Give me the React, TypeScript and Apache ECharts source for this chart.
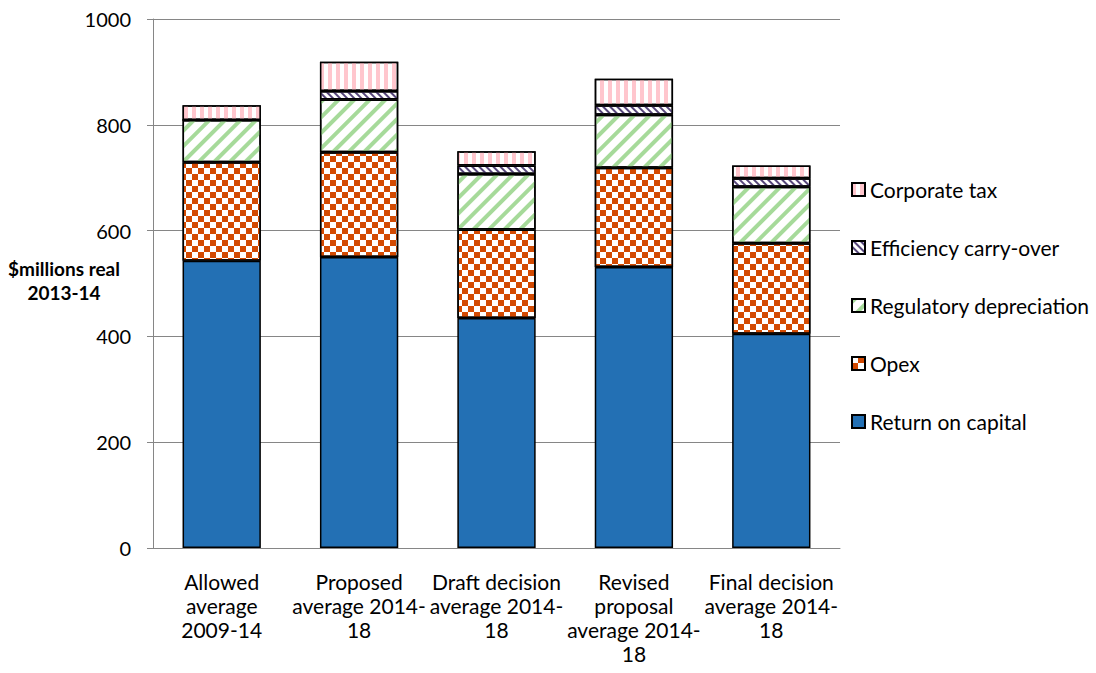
import React, { useEffect, useRef } from "react";
import * as echarts from "echarts";

const categories = [
  "Allowed\naverage\n2009-14",
  "Proposed\naverage 2014-\n18",
  "Draft decision\naverage 2014-\n18",
  "Revised\nproposal\naverage 2014-\n18",
  "Final decision\naverage 2014-\n18",
];
const returnOnCapital = [543, 550, 435, 531, 405];
const opex = [186, 198, 167, 188, 171];
const regulatoryDepreciation = [80, 100, 105, 100, 107];
const efficiencyCarryOver = [0, 16, 16, 18, 16];
const corporateTax = [28, 55, 27, 50, 24];
const yTicks = { min: 0, max: 1000, interval: 200 };
const yTitle = "$millions real\n2013-14";

const FONT = "Lato";

export default function App() {
  const ref = useRef<HTMLDivElement>(null);
  useEffect(() => {
    if (!ref.current) return;
    const chart = echarts.init(ref.current, null, { renderer: "svg" });
    const border = { borderColor: "#000", borderWidth: 1.5 };
    const stack = "total";
    chart.setOption({
      animation: false,
      backgroundColor: "#fff",
      textStyle: { fontFamily: FONT, color: "#000" },
      grid: {
        left: 153,
        top: 19,
        right: 256,
        bottom: 125,
        containLabel: false,
        outerBoundsMode: "none",
      },
      graphic: [
        {
          type: "text",
          x: 64,
          y: 280,
          style: {
            text: yTitle,
            fontFamily: FONT,
            fontSize: 19,
            fontWeight: "bold",
            lineHeight: 24,
            fill: "#000",
            align: "center",
            verticalAlign: "middle",
          },
        },
      ],
      legend: {
        orient: "vertical",
        left: 846,
        top: 174,
        itemWidth: 13,
        itemHeight: 13,
        itemGap: 37,
        icon: "rect",
        textStyle: { fontFamily: FONT, fontSize: 21, lineHeight: 20, color: "#000" },
        data: [
          "Corporate tax",
          "Efficiency carry-over",
          "Regulatory depreciation",
          "Opex",
          "Return on capital",
        ],
      },
      xAxis: {
        type: "category",
        data: categories,
        axisTick: { show: false },
        axisLine: { lineStyle: { color: "#868686", width: 1 } },
        axisLabel: {
          interval: 0,
          margin: 21,
          fontFamily: FONT,
          fontSize: 21,
          lineHeight: 24,
          color: "#000",
        },
      },
      yAxis: {
        type: "value",
        min: yTicks.min,
        max: yTicks.max,
        interval: yTicks.interval,
        axisLine: { show: true, lineStyle: { color: "#868686", width: 1 } },
        axisTick: { show: true, length: 6, lineStyle: { color: "#868686" } },
        splitLine: { lineStyle: { color: "#868686", width: 1 } },
        axisLabel: {
          margin: 22,
          fontFamily: FONT,
          fontSize: 20,
          color: "#000",
          formatter: (v: number) => String(v),
        },
      },
      series: [
        {
          name: "Return on capital",
          type: "bar",
          stack,
          barCategoryGap: "43%",
          data: returnOnCapital,
          itemStyle: { color: "#2370b4", ...border },
        },
        {
          name: "Opex",
          type: "bar",
          stack,
          data: opex,
          itemStyle: {
            color: "#ffffff",
            ...border,
            decal: {
              symbol: "rect",
              symbolSize: 1,
              color: "#d34a02",
              dashArrayX: [
                [6, 6],
                [0, 6, 6, 0],
              ],
              dashArrayY: [6, 0],
              rotation: 0,
            },
          },
        },
        {
          name: "Regulatory depreciation",
          type: "bar",
          stack,
          data: regulatoryDepreciation,
          itemStyle: {
            color: "#ffffff",
            ...border,
            decal: {
              symbol: "rect",
              symbolSize: 1,
              color: "#a6da9a",
              dashArrayX: [4, 7],
              dashArrayY: [10, 0],
              rotation: Math.PI / 4,
            },
          },
        },
        {
          name: "Efficiency carry-over",
          type: "bar",
          stack,
          data: efficiencyCarryOver,
          itemStyle: {
            color: "#ffffff",
            ...border,
            decal: {
              symbol: "rect",
              symbolSize: 1,
              color: "#56467a",
              dashArrayX: [2, 3],
              dashArrayY: [10, 0],
              rotation: -Math.PI / 4,
            },
          },
        },
        {
          name: "Corporate tax",
          type: "bar",
          stack,
          data: corporateTax,
          itemStyle: {
            color: "#ffffff",
            ...border,
            decal: {
              symbol: "rect",
              symbolSize: 1,
              color: "#ffc6cd",
              dashArrayX: [4, 4],
              dashArrayY: [10, 0],
              rotation: 0,
            },
          },
        },
      ],
    });
    return () => chart.dispose();
  }, []);
  return (
    <div
      ref={ref}
      style={{ position: "absolute", left: 0, top: 0, width: 1096, height: 673 }}
    />
  );
}
